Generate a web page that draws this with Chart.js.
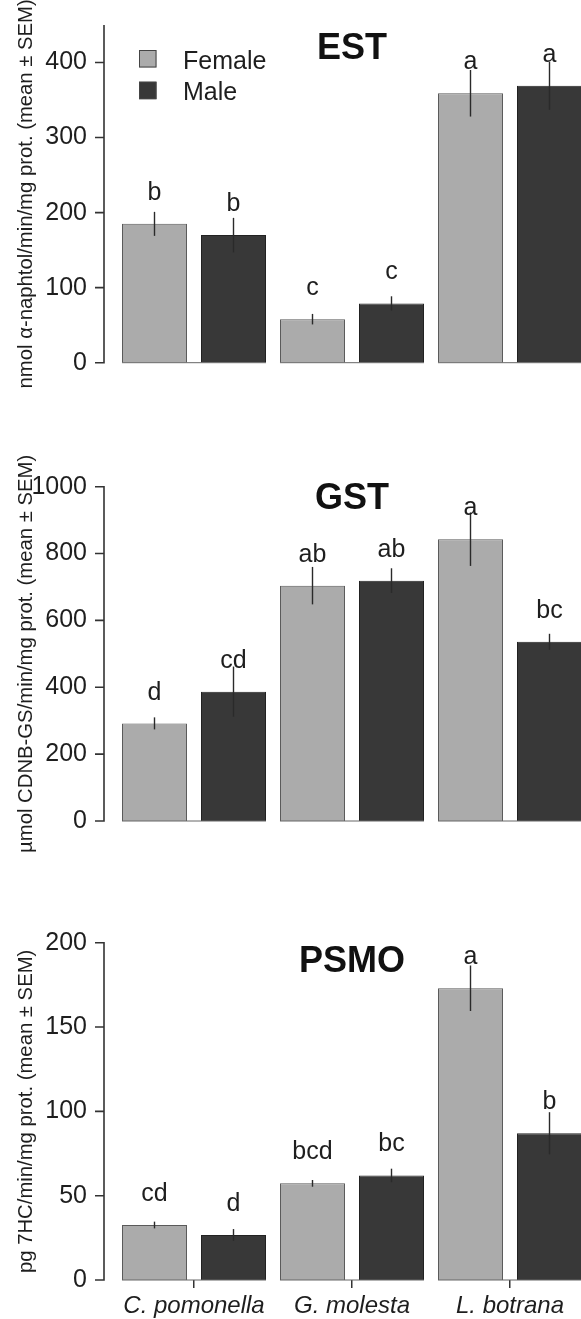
<!DOCTYPE html>
<html>
<head>
<meta charset="utf-8">
<script src="https://cdn.jsdelivr.net/npm/chart.js@4"></script>
<style>
  html, body { margin: 0; padding: 0; background: #fff; overflow: hidden; }
  #wrap { position: relative; width: 581px; height: 1319px; overflow: hidden; }
  canvas { position: absolute; left: 0; }
</style>
</head>
<body>
<div id="wrap">
  <canvas id="est" width="592" height="410" style="top:0px"></canvas>
  <canvas id="gst" width="592" height="470" style="top:410px"></canvas>
  <canvas id="psmo" width="592" height="469" style="top:850px"></canvas>
</div>
<script>
// categories and series
const species = ['C. pomonella', 'G. molesta', 'L. botrana'];
const sexes = ['Female', 'Male'];

// EST (nmol alpha-naphtol/min/mg prot.)
const estFemale = [185, 58, 359];
const estFemaleSem = [16, 7, 31];
const estMale = [170, 79, 369];
const estMaleSem = [23, 9.5, 32];
const estFemaleLetters = ['b', 'c', 'a'];
const estMaleLetters = ['b', 'c', 'a'];
const estTicks = [0, 100, 200, 300, 400];

// GST (umol CDNB-GS/min/mg prot.)
const gstFemale = [292, 704, 843];
const gstFemaleSem = [18, 56, 80];
const gstMale = [387, 719, 536];
const gstMaleSem = [75, 37, 24];
const gstFemaleLetters = ['d', 'ab', 'a'];
const gstMaleLetters = ['cd', 'ab', 'bc'];
const gstTicks = [0, 200, 400, 600, 800, 1000];

// PSMO (pg 7HC/min/mg prot.)
const psmoFemale = [32.6, 57.3, 173];
const psmoFemaleSem = [2, 2, 13.5];
const psmoMale = [26.7, 62, 87];
const psmoMaleSem = [3.5, 4, 12.5];
const psmoFemaleLetters = ['cd', 'bcd', 'a'];
const psmoMaleLetters = ['d', 'bc', 'b'];
const psmoTicks = [0, 50, 100, 150, 200];

const FONT = "'Liberation Sans', Arial, Helvetica, sans-serif";
const femaleColor = '#ababab';
const maleColor = '#383838';

const panels = [
  { id: 'est', title: 'EST', yTitle: 'nmol α-naphtol/min/mg prot. (mean ± SEM)', yMax: 450, ticks: estTicks,
    values: [estFemale, estMale], sems: [estFemaleSem, estMaleSem], letters: [estFemaleLetters, estMaleLetters],
    padTop: 25, xHeight: 47.3, titleAt: 0.9, showX: false, legend: true },
  { id: 'gst', title: 'GST', yTitle: 'µmol CDNB-GS/min/mg prot. (mean ± SEM)', yMax: 1000, ticks: gstTicks,
    values: [gstFemale, gstMale], sems: [gstFemaleSem, gstMaleSem], letters: [gstFemaleLetters, gstMaleLetters],
    padTop: 76.7, xHeight: 59, titleAt: 0.933, showX: false, legend: false },
  { id: 'psmo', title: 'PSMO', yTitle: 'pg 7HC/min/mg prot. (mean ± SEM)', yMax: 200, ticks: psmoTicks,
    values: [psmoFemale, psmoMale], sems: [psmoFemaleSem, psmoMaleSem], letters: [psmoFemaleLetters, psmoMaleLetters],
    padTop: 92.7, xHeight: 39, titleAt: 0.913, showX: true, legend: false }
];

function decorPlugin(p) {
  return {
    id: 'decor_' + p.id,
    afterDatasetsDraw(chart) {
      const ctx = chart.ctx;
      const ys = chart.scales.y;
      const xs = chart.scales.x;
      const area = chart.chartArea;
      const zero = ys.getPixelForValue(0);
      ctx.save();

      // y axis line offset from the plot, R style
      const ax = area.left - 11;
      ctx.strokeStyle = '#333';
      ctx.lineWidth = 1.6;
      ctx.beginPath();
      ctx.moveTo(ax, zero + 0.8);
      ctx.lineTo(ax, area.top);
      p.ticks.forEach(t => {
        const y = ys.getPixelForValue(t);
        ctx.moveTo(ax - 9, y);
        ctx.lineTo(ax + 0.8, y);
      });
      ctx.stroke();

      const m0 = chart.getDatasetMeta(0);
      const m1 = chart.getDatasetMeta(1);

      // baseline joining the two bars of each species
      ctx.strokeStyle = '#666';
      ctx.lineWidth = 1;
      ctx.beginPath();
      species.forEach((s, j) => {
        const a = m0.data[j], b = m1.data[j];
        ctx.moveTo(a.x - a.width / 2, zero);
        ctx.lineTo(b.x + b.width / 2, zero);
      });
      ctx.stroke();

      // error bars and letters
      [m0, m1].forEach((meta, i) => {
        meta.data.forEach((bar, j) => {
          const v = p.values[i][j], s = p.sems[i][j];
          ctx.strokeStyle = '#2a2a2a';
          ctx.lineWidth = 1.4;
          ctx.beginPath();
          ctx.moveTo(bar.x, ys.getPixelForValue(v + s));
          ctx.lineTo(bar.x, ys.getPixelForValue(v - s));
          ctx.stroke();

          ctx.fillStyle = '#1e1e1e';
          ctx.font = '25px ' + FONT;
          ctx.textAlign = 'center';
          ctx.textBaseline = 'alphabetic';
          ctx.fillText(p.letters[i][j], bar.x, ys.getPixelForValue(v + 0.071 * p.yMax));
        });
      });

      // panel title inside the plot
      ctx.fillStyle = '#111';
      ctx.font = 'bold 36px ' + FONT;
      ctx.textAlign = 'center';
      ctx.fillText(p.title, xs.getPixelForValue(1), ys.getPixelForValue(p.titleAt * p.yMax));

      // legend
      if (p.legend) {
        const lx = area.left + 24;
        let ly = area.top + 25;
        chart.data.datasets.forEach(ds => {
          ctx.fillStyle = ds.backgroundColor;
          ctx.fillRect(lx, ly, 17.5, 17.5);
          ctx.strokeStyle = '#444';
          ctx.lineWidth = 1;
          ctx.strokeRect(lx + 0.5, ly + 0.5, 16.5, 16.5);
          ctx.fillStyle = '#1e1e1e';
          ctx.font = '25px ' + FONT;
          ctx.textAlign = 'left';
          ctx.fillText(ds.label, lx + 44, ly + 18.5);
          ly += 31.7;
        });
      }
      ctx.restore();
    }
  };
}

panels.forEach(p => {
  new Chart(document.getElementById(p.id), {
    type: 'bar',
    data: {
      labels: species,
      datasets: [
        { label: sexes[0], data: p.values[0], backgroundColor: femaleColor, borderColor: '#5a5a5a', borderWidth: 1 },
        { label: sexes[1], data: p.values[1], backgroundColor: maleColor, borderColor: '#222', borderWidth: 1 }
      ]
    },
    options: {
      responsive: false,
      animation: false,
      categoryPercentage: 1.0,
      barPercentage: 0.823,
      layout: { padding: { top: p.padTop, right: 3, left: 0, bottom: 0 } },
      scales: {
        x: {
          grid: { display: p.showX, drawOnChartArea: false, drawTicks: p.showX, tickLength: 8, offset: false, color: '#333', lineWidth: 1.5 },
          border: { display: false },
          ticks: { display: p.showX, color: '#1e1e1e', padding: 4, font: { family: FONT, size: 24, style: 'italic' } },
          afterFit: s => { s.height = p.xHeight; s.paddingLeft = 0; s.paddingRight = 0; }
        },
        y: {
          min: 0,
          max: p.yMax,
          afterBuildTicks: s => { s.ticks = p.ticks.map(v => ({ value: v })); },
          grid: { display: false, drawTicks: false },
          border: { display: false },
          ticks: { color: '#1e1e1e', padding: 28, font: { family: FONT, size: 25 }, callback: v => String(v) },
          title: { display: true, text: p.yTitle, color: '#1e1e1e', padding: { top: 14, bottom: 0 }, font: { family: FONT, size: 20.3 } },
          afterFit: s => { s.width = 115; s.paddingTop = 0; s.paddingBottom = 0; }
        }
      },
      plugins: {
        legend: { display: false },
        tooltip: { enabled: false }
      }
    },
    plugins: [decorPlugin(p)]
  });
});
</script>
</body>
</html>
